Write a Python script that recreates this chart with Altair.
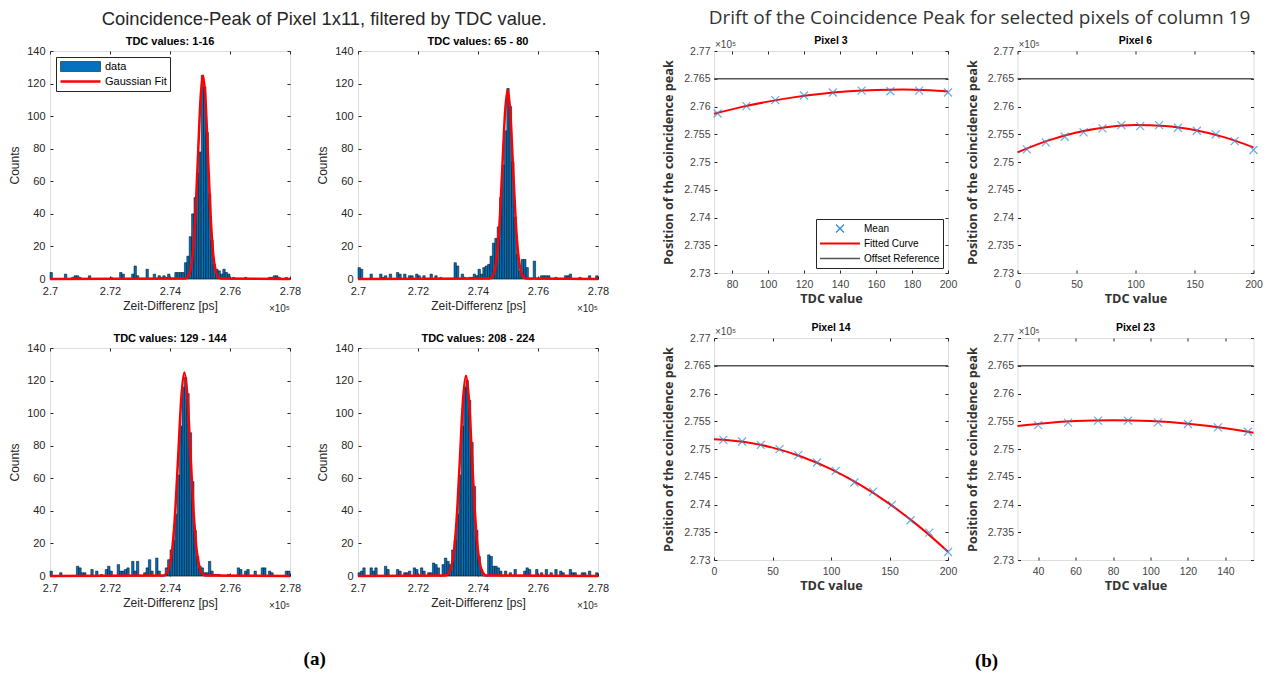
import altair as alt
import pandas as pd

FONT = "Liberation Sans"
AX = "#262626"
BLUE = "#0072BD"
MEAN_BLUE = "#2C8AD8"
REF_GRAY = "#555555"

# ---------------- (a) histogram data ----------------
BIN_START = 270000
BIN_WIDTH = 80
a_titles = ["TDC values: 1-16", "TDC values: 65 - 80", "TDC values: 129 - 144", "TDC values: 208 - 224"]

a_counts_1 = [4, 0, 0, 0, 0, 0, 3, 0, 0, 1,
              2, 2, 1, 0, 0, 0, 2, 0, 0, 0,
              0, 0, 0, 0, 0, 1, 0, 0, 0, 4,
              3, 0, 0, 0, 3, 8, 2, 0, 0, 0,
              6, 0, 0, 3, 0, 2, 1, 2, 1, 3,
              0, 0, 4, 4, 4, 4, 10, 14, 26, 40,
              50, 65, 78, 125, 118, 90, 52, 24, 9, 6,
              5, 3, 6, 4, 3, 0, 1, 0, 0, 0,
              0, 1, 0, 0, 0, 0, 0, 0, 0, 0,
              0, 1, 1, 2, 2, 1, 0, 0, 1, 0]
a_counts_2 = [7, 6, 0, 0, 0, 3, 0, 0, 0, 3,
              1, 2, 0, 3, 0, 0, 4, 3, 0, 3,
              0, 2, 2, 0, 3, 2, 0, 2, 0, 0,
              3, 0, 2, 0, 1, 0, 0, 0, 0, 0,
              10, 8, 0, 3, 1, 0, 1, 1, 3, 2,
              6, 3, 7, 8, 9, 14, 22, 25, 32, 50,
              70, 91, 117, 106, 72, 38, 15, 5, 12, 12,
              7, 0, 0, 11, 0, 0, 2, 2, 2, 2,
              0, 0, 1, 0, 0, 0, 2, 2, 3, 0,
              0, 0, 1, 0, 0, 0, 2, 0, 0, 2]
a_counts_3 = [3, 0, 0, 0, 2, 0, 0, 0, 0, 0,
              0, 6, 5, 2, 2, 0, 0, 4, 0, 3,
              0, 1, 0, 4, 6, 3, 0, 0, 7, 3,
              3, 4, 5, 0, 9, 3, 9, 0, 0, 2,
              5, 10, 3, 0, 11, 3, 0, 0, 5, 10,
              16, 22, 38, 62, 92, 116, 122, 112, 88, 58,
              28, 12, 6, 5, 2, 2, 9, 3, 1, 1,
              1, 0, 0, 0, 1, 0, 0, 0, 5, 4,
              0, 3, 4, 0, 0, 3, 0, 0, 5, 5,
              0, 3, 2, 0, 0, 0, 0, 0, 3, 3]
a_counts_4 = [2, 3, 5, 0, 0, 5, 3, 5, 0, 0,
              0, 6, 4, 0, 0, 0, 4, 3, 0, 2,
              2, 3, 0, 5, 4, 0, 5, 3, 0, 2,
              2, 8, 7, 5, 0, 7, 11, 9, 7, 16,
              22, 38, 62, 92, 116, 120, 108, 82, 55, 28,
              12, 4, 0, 0, 13, 12, 6, 6, 5, 3,
              0, 3, 0, 2, 0, 4, 0, 0, 0, 3,
              5, 4, 0, 0, 4, 0, 2, 0, 4, 0,
              2, 0, 4, 0, 3, 2, 0, 0, 4, 2,
              2, 0, 0, 2, 2, 0, 3, 0, 0, 2]

# Gaussian fit curves
a_fit_x_1 = [270000, 274519, 274602, 274685, 274768, 274851, 274934, 275017, 275100,
             275183, 275266, 275349, 275432, 275515, 275598, 275681, 278000]
a_fit_y_1 = [0, 0.3, 1.4, 5.5, 16.9, 40.6, 75.8, 110.3, 125, 110.3, 75.8, 40.6, 16.9, 5.5, 1.4, 0.3, 0]
a_fit_x_2 = [270000, 274381, 274468, 274555, 274642, 274729, 274816, 274903, 274990,
             275077, 275164, 275251, 275338, 275425, 275512, 275599, 278000]
a_fit_y_2 = [0, 0.3, 1.3, 5.1, 15.7, 37.7, 70.4, 102.4, 116, 102.4, 70.4, 37.7, 15.7, 5.1, 1.3, 0.3, 0]
a_fit_x_3 = [270000, 273776, 273877, 273978, 274078, 274178, 274279, 274380, 274480,
             274580, 274681, 274782, 274882, 274982, 275083, 275184, 278000]
a_fit_y_3 = [0, 0.3, 1.4, 5.5, 16.9, 40.6, 75.8, 110.3, 125, 110.3, 75.8, 40.6, 16.9, 5.5, 1.4, 0.3, 0]
a_fit_x_4 = [270000, 272914, 273012, 273110, 273208, 273306, 273404, 273502, 273600,
             273698, 273796, 273894, 273992, 274090, 274188, 274286, 278000]
a_fit_y_4 = [0, 0.3, 1.4, 5.4, 16.6, 39.9, 74.6, 108.5, 123, 108.5, 74.6, 39.9, 16.6, 5.4, 1.4, 0.3, 0]

a_x_ticks = [270000, 272000, 274000, 276000, 278000]
a_y_ticks = [0, 20, 40, 60, 80, 100, 120, 140]
a_legend = ["data", "Gaussian Fit"]

# ---------------- (b) drift data ----------------
b_titles = ["Pixel 3", "Pixel 6", "Pixel 14", "Pixel 23"]
p3_tdc = [72, 88, 104, 120, 136, 152, 168, 184, 200]
p3_mean = [275874, 276006, 276114, 276198, 276252, 276287, 276275, 276287, 276252]
p3_fit_x = [70, 85, 100, 115, 130, 145, 160, 175, 190, 200]
p3_fit_y = [275870, 275989, 276088, 276169, 276231, 276275, 276299, 276305, 276291, 276272]

p6_tdc = [8, 24, 40, 56, 72, 88, 104, 120, 136, 152, 168, 184, 200]
p6_mean = [275228, 275353, 275455, 275533, 275605, 275665, 275647, 275665, 275617, 275563, 275497, 275377, 275216]
p6_fit_x = [0, 25, 50, 75, 100, 125, 150, 175, 200]
p6_fit_y = [275174, 275381, 275532, 275627, 275666, 275649, 275576, 275448, 275264]

p14_tdc = [8, 24, 40, 56, 72, 88, 104, 120, 136, 152, 168, 184, 200]
p14_mean = [275165, 275135, 275075, 274997, 274889, 274756, 274606, 274396, 274233, 273993, 273716, 273493, 273144]
p14_fit_x = [0, 25, 50, 75, 100, 125, 150, 175, 200]
p14_fit_y = [275177, 275130, 275025, 274860, 274636, 274353, 274011, 273610, 273150]

p23_tdc = [40, 56, 72, 88, 104, 120, 136, 152]
p23_mean = [275431, 275474, 275510, 275510, 275480, 275450, 275389, 275311]
p23_fit_x = [29, 45, 60, 80, 100, 120, 140, 155]
p23_fit_y = [275413, 275470, 275503, 275519, 275503, 275455, 275375, 275293]

offset_reference = [276500]
b_y_ticks = [273000, 273500, 274000, 274500, 275000, 275500, 276000, 276500, 277000]
b_legend = ["Mean", "Fitted Curve", "Offset Reference"]

W_A, H_A = 240, 228
W_B_L, W_B_R, H_B = 234, 236, 222
TICK = 3

XPATH = "M-1,-1L1,1M-1,1L1,-1"


def frame_axis(values, title, grid_len, label_expr=None, **kw):
    props = dict(values=values, tickCount=40, title=title, domain=False, ticks=False, tickSize=0,
                 grid=True, gridColor=AX, gridWidth=1, gridOpacity=1,
                 gridDash=[TICK, grid_len - 2 * TICK, TICK, 4000],
                 labelFont=FONT, labelFontSize=11, labelColor=AX,
                 labelFlush=False, labelOverlap=False,
                 titleFont=FONT, titleFontSize=12, titleFontWeight="normal", titleColor=AX)
    if label_expr:
        props["labelExpr"] = label_expr
    props.update(kw)
    return alt.Axis(**props)


def hist_panel(title, counts, fit_x, fit_y, with_legend):
    starts = [BIN_START + i * BIN_WIDTH for i in range(len(counts))]
    bins = pd.DataFrame({"start": starts, "end": [s + BIN_WIDTH for s in starts],
                         "count": counts, "series": [a_legend[0]] * len(counts)})
    fit = pd.DataFrame({"x": fit_x, "y": fit_y})
    xs = alt.Scale(domain=[270000, 278000], nice=False, zero=False)
    ys = alt.Scale(domain=[0, 140], nice=False)
    xaxis = frame_axis(a_x_ticks, "Zeit-Differenz [ps]", H_A,
                       "format(datum.value / 100000, '.2~f')", labelPadding=6, titlePadding=4)
    yaxis = frame_axis(a_y_ticks, "Counts", W_A, labelPadding=5, titlePadding=5)
    bar_enc = dict(x=alt.X("start:Q", scale=xs, axis=xaxis), x2="end:Q",
                   y=alt.Y("count:Q", scale=ys, axis=yaxis), y2=alt.datum(0))
    if with_legend:
        leg = alt.Legend(title=None, orient="top-left", offset=6, padding=3,
                         strokeColor=AX, fillColor="white",
                         symbolType={"expr": "datum.value == 'data' ? 'M-1,-0.25H1V0.25H-1Z' : 'stroke'"},
                         symbolFillColor=BLUE,
                         symbolSize=1600, symbolOpacity=1, clipHeight=13, rowPadding=2,
                         labelOffset=3, labelFont=FONT, labelFontSize=11, labelColor="black")
        bar = alt.Chart(bins).mark_bar(fill=BLUE)
        bar_enc["stroke"] = alt.Stroke("series:N", scale=alt.Scale(domain=a_legend, range=["black", "red"]), legend=leg)
        bar_enc["strokeWidth"] = alt.StrokeWidth("series:N", scale=alt.Scale(type="ordinal", domain=a_legend, range=[0.5, 2.5]), legend=leg)
    else:
        bar = alt.Chart(bins).mark_bar(fill=BLUE, stroke="black", strokeWidth=0.5)
    line = alt.Chart(fit).mark_line(stroke="red", strokeWidth=2.5, interpolate="monotone").encode(x="x:Q", y="y:Q")
    expo = alt.Chart(pd.DataFrame({"t": ["×10⁵"]})).mark_text(
        align="right", baseline="alphabetic", font=FONT, fontSize=10, color=AX
    ).encode(text="t:N", x=alt.value(W_A), y=alt.value(H_A + 33))
    return alt.layer(bar.encode(**bar_enc), line, expo).properties(
        width=W_A, height=H_A,
        title=alt.Title(title, font=FONT, fontSize=11, fontWeight="bold", color="black", offset=0, dy=2))


def pixel_panel(title, width, xdom, xticks, tdc, mean, fit_x, fit_y, with_legend):
    pts = pd.DataFrame({"tdc": tdc, "pos": mean})
    fit = pd.DataFrame({"tdc": fit_x, "pos": fit_y})
    ref = pd.DataFrame({"pos": offset_reference, "series": [b_legend[2]] * len(offset_reference)})
    xs = alt.Scale(domain=xdom, nice=False, zero=False)
    ys = alt.Scale(domain=[273000, 277000], nice=False, zero=False)
    bkw = dict(labelColor="#444444", labelFontSize=10.5, titleFont="Open Sans", titleFontWeight="bold",
               titleFontSize=12.7, titleColor="#333333")
    xaxis = frame_axis(xticks, "TDC value", H_B, labelPadding=6, titlePadding=3, **bkw)
    yaxis = frame_axis(b_y_ticks, "Position of the coincidence peak", width,
                       "format(datum.value / 100000, '.3~f')", labelPadding=4, titlePadding=8, **bkw)
    ref_enc = dict(y=alt.Y("pos:Q", scale=ys, axis=yaxis))
    if with_legend:
        leg = alt.Legend(title=None, orient="bottom-right", offset=5, padding=3,
                         strokeColor=AX, fillColor="white",
                         symbolType={"expr": "datum.value == 'Mean' ? 'M-0.2,-0.2L0.2,0.2M-0.2,0.2L0.2,-0.2' : 'stroke'"},
                         symbolFillColor="transparent",
                         symbolSize=1600, symbolOpacity=1, clipHeight=13, rowPadding=2,
                         labelOffset=3, labelFont=FONT, labelFontSize=10, labelColor="black")
        ref_l = alt.Chart(ref).mark_rule()
        ref_enc["stroke"] = alt.Stroke("series:N", scale=alt.Scale(domain=b_legend, range=[MEAN_BLUE, "red", REF_GRAY]), legend=leg)
        ref_enc["strokeWidth"] = alt.StrokeWidth("series:N", scale=alt.Scale(type="ordinal", domain=b_legend, range=[1.2, 2, 1.6]), legend=leg)
    else:
        ref_l = alt.Chart(ref).mark_rule(stroke=REF_GRAY, strokeWidth=1.6)
    fit_l = alt.Chart(fit).mark_line(stroke="red", strokeWidth=2, interpolate="monotone").encode(
        x=alt.X("tdc:Q", scale=xs, axis=xaxis), y="pos:Q")
    pts_l = alt.Chart(pts).mark_point(shape=XPATH, size=64, filled=False, stroke=MEAN_BLUE, strokeWidth=1.2).encode(
        x="tdc:Q", y="pos:Q")
    expo = alt.Chart(pd.DataFrame({"t": ["×10⁵"]})).mark_text(
        align="left", baseline="alphabetic", font=FONT, fontSize=10, color="#444444"
    ).encode(text="t:N", x=alt.value(1), y=alt.value(-3))
    return alt.layer(ref_l.encode(**ref_enc), fit_l, pts_l, expo).properties(
        width=width, height=H_B,
        title=alt.Title(title, font=FONT, fontSize=10.5, fontWeight="bold", color="black", offset=2, dy=8))


a1 = hist_panel(a_titles[0], a_counts_1, a_fit_x_1, a_fit_y_1, True)
a2 = hist_panel(a_titles[1], a_counts_2, a_fit_x_2, a_fit_y_2, False)
a3 = hist_panel(a_titles[2], a_counts_3, a_fit_x_3, a_fit_y_3, False)
a4 = hist_panel(a_titles[3], a_counts_4, a_fit_x_4, a_fit_y_4, False)

b1 = pixel_panel(b_titles[0], W_B_L, [70, 200], [80, 100, 120, 140, 160, 180, 200], p3_tdc, p3_mean, p3_fit_x, p3_fit_y, True)
b2 = pixel_panel(b_titles[1], W_B_R, [0, 200], [0, 50, 100, 150, 200], p6_tdc, p6_mean, p6_fit_x, p6_fit_y, False)
b3 = pixel_panel(b_titles[2], W_B_L, [0, 200], [0, 50, 100, 150, 200], p14_tdc, p14_mean, p14_fit_x, p14_fit_y, False)
b4 = pixel_panel(b_titles[3], W_B_R, [29, 155], [40, 60, 80, 100, 120, 140], p23_tdc, p23_mean, p23_fit_x, p23_fit_y, False)

SA, VA = 14, 17
SB, VB = 7.5, 16
MID = 52

IND = dict(stroke="independent", strokeWidth="independent")


def hc(*charts, **kw):
    return alt.hconcat(*charts, **kw).resolve_scale(**IND).resolve_legend(**IND)


def vc(*charts, **kw):
    return alt.vconcat(*charts, **kw).resolve_scale(**IND).resolve_legend(**IND)


block_a = vc(hc(a1, a2, spacing=SA), hc(a3, a4, spacing=SA), spacing=VA,
             title=alt.Title("Coincidence-Peak of Pixel 1x11, filtered by TDC value.",
                             font=FONT, fontSize=18.4, fontWeight="normal", color=AX,
                             anchor="middle", offset=7, dx=15.5))
block_b = vc(hc(b1, b2, spacing=SB), hc(b3, b4, spacing=SB), spacing=VB,
             title=alt.Title("Drift of the Coincidence Peak for selected pixels of column 19",
                             font="Open Sans", fontSize=19, fontWeight="normal", color="#333333",
                             anchor="middle", offset=2, dx=17, dy=-5))
cap_a = vc(block_a, title=alt.Title("(a)", orient="bottom", font="Liberation Serif", fontSize=19,
                                    fontWeight="bold", color="black", anchor="middle", offset=38, dx=6))
cap_b = vc(block_b, title=alt.Title("(b)", orient="bottom", font="Liberation Serif", fontSize=19,
                                    fontWeight="bold", color="black", anchor="middle", offset=59, dx=24))

chart = hc(cap_a, cap_b, spacing=MID).properties(
    padding={"left": 0, "top": 1, "right": 0, "bottom": 0}
).configure_view(stroke=AX, strokeWidth=1).configure(font=FONT)

chart.save("out.html", embed_options={"renderer": "svg", "actions": False})
